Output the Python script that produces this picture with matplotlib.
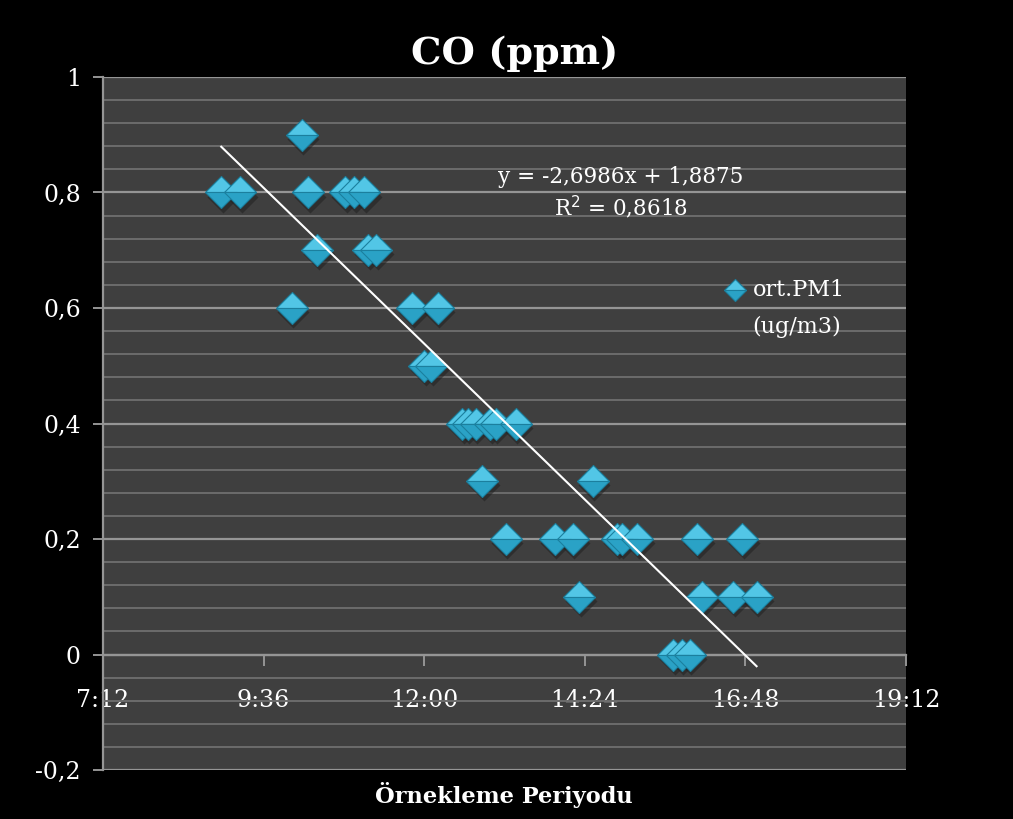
import numpy as np
import matplotlib.pyplot as plt
from matplotlib.ticker import FuncFormatter, MultipleLocator

# sampling times and CO readings
times = ["8:58", "9:15", "10:01", "10:10", "10:16", "10:24", "10:49", "10:57",
         "11:06", "11:10", "11:17", "11:49", "12:00", "12:06", "12:12", "12:34",
         "12:39", "12:46", "12:52", "12:59", "13:04", "13:13", "13:22", "13:57",
         "14:13", "14:19", "14:31", "14:53", "14:57", "15:11", "15:43", "15:51",
         "15:58", "16:05", "16:09", "16:37", "16:45", "16:58"]
co = [0.8, 0.8, 0.6, 0.9, 0.8, 0.7, 0.8, 0.8,
      0.8, 0.7, 0.7, 0.6, 0.5, 0.5, 0.6, 0.4,
      0.4, 0.4, 0.3, 0.4, 0.4, 0.2, 0.4, 0.2,
      0.2, 0.1, 0.3, 0.2, 0.2, 0.2, 0.0, 0.0,
      0.0, 0.2, 0.1, 0.1, 0.2, 0.1]
slope, intercept, r2 = -2.6986, 1.8875, 0.8618
x_ticks = [0.3, 0.4, 0.5, 0.6, 0.7, 0.8]
y_ticks = [-0.2, 0.0, 0.2, 0.4, 0.6, 0.8, 1.0]


def to_day_fraction(t):
    h, m = t.split(":")
    return (int(h) * 60 + int(m)) / 1440.0


def fmt_time(v, pos):
    mins = int(round(v * 1440))
    return "%d:%02d" % (mins // 60, mins % 60)


def fmt_comma(v, pos):
    s = "%g" % round(v, 2)
    return s.replace(".", ",")


x = np.array([to_day_fraction(t) for t in times])
y = np.array(co)

serif = "DejaVu Serif"
light, dark, edge = "#52c6e6", "#2aa2c6", "#1b7f9e"

fig = plt.figure(figsize=(10.13, 8.19), dpi=100, facecolor="black")
ax = fig.add_axes([0.1017, 0.0598, 0.7927, 0.8462])
ax.set_facecolor("#3f3f3f")
ax.set_xlim(0.3, 0.8)
ax.set_ylim(-0.2, 1.0)

ax.set_yticks(y_ticks)
ax.yaxis.set_minor_locator(MultipleLocator(0.04))
ax.set_xticks(x_ticks)
ax.xaxis.set_major_formatter(FuncFormatter(fmt_time))
ax.yaxis.set_major_formatter(FuncFormatter(fmt_comma))

ax.grid(axis="y", which="major", color="#959595", lw=1.6, zorder=0)
ax.grid(axis="y", which="minor", color="#6c6c6c", lw=1.4, zorder=0)
ax.set_axisbelow(True)

for s in ["top", "right"]:
    ax.spines[s].set_visible(False)
ax.spines["left"].set_color("#959595")
ax.spines["left"].set_linewidth(1.6)
ax.spines["bottom"].set_position(("data", 0))
ax.spines["bottom"].set_color("#959595")
ax.spines["bottom"].set_linewidth(1.6)

ax.tick_params(axis="y", which="major", direction="out", length=7, width=1.4,
               color="#959595", labelcolor="white", labelsize=17, pad=9)
ax.tick_params(axis="y", which="minor", length=0)
ax.tick_params(axis="x", direction="out", length=8, width=1.4,
               color="#959595", labelcolor="white", labelsize=17, pad=17)
for lab in ax.get_xticklabels() + ax.get_yticklabels():
    lab.set_family(serif)

# shadow + two-tone diamond markers
ax.plot(x + 0.001, y - 0.007, "D", ms=16, color="#202020", alpha=0.55,
        mec="none", zorder=3)
ax.plot(x, y, "D", ms=16, fillstyle="top", mfc=light, mfcalt=dark,
        mec=edge, mew=0.8, zorder=4)

# linear trendline
xs = np.array([x.min(), x.max()])
ax.plot(xs, slope * xs + intercept, color="white", lw=1.5, zorder=5)

ax.text(0.6225, 0.826, "y = -2,6986x + 1,8875", color="white", fontsize=15.5,
        family=serif, ha="center", va="center")
ax.text(0.6225, 0.775, "R$^2$ = 0,8618", color="white", fontsize=15.5,
        family=serif, ha="center", va="center")

# legend
ax.plot([0.6935], [0.631], "D", ms=11, fillstyle="top", mfc=light, mfcalt=dark,
        mec=edge, mew=0.8, zorder=6)
ax.text(0.7045, 0.631, "ort.PM1", color="white", fontsize=16, family=serif,
        ha="left", va="center")
ax.text(0.7045, 0.567, "(ug/m3)", color="white", fontsize=16, family=serif,
        ha="left", va="center")

fig.text(0.508, 0.935, "CO (ppm)", color="white", fontsize=27.5,
         fontweight="bold", family=serif, ha="center", va="center")
fig.text(0.497, 0.029, "Örnekleme Periyodu", color="white", fontsize=16.2,
         fontweight="bold", family=serif, ha="center", va="center")

fig.savefig("out.png", dpi=100, facecolor="black")
